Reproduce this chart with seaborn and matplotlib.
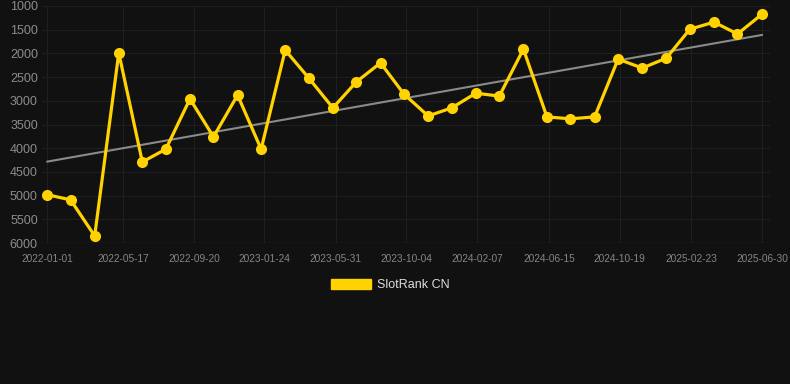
import pandas as pd
import numpy as np
import matplotlib.pyplot as plt
import matplotlib.dates as mdates
import seaborn as sns
from matplotlib.patches import Patch

# data
dates = ['2022-01-01', '2022-02-12', '2022-03-27', '2022-05-09', '2022-06-20', '2022-08-01',
         '2022-09-13', '2022-10-25', '2022-12-07', '2023-01-18', '2023-03-02', '2023-04-13',
         '2023-05-26', '2023-07-07', '2023-08-19', '2023-09-30', '2023-11-12', '2023-12-24',
         '2024-02-05', '2024-03-18', '2024-04-30', '2024-06-11', '2024-07-23', '2024-09-04',
         '2024-10-16', '2024-11-28', '2025-01-10', '2025-02-21', '2025-04-05', '2025-05-17',
         '2025-06-30']
ranks = [4980, 5090, 5850, 1990, 4290, 4020, 2960, 3760, 2880, 4020, 1930, 2520,
         3150, 2600, 2200, 2860, 3320, 3150, 2840, 2900, 1910, 3340, 3380, 3340,
         2120, 2310, 2100, 1490, 1340, 1590, 1170]
tick_dates = ['2022-01-01', '2022-05-17', '2022-09-20', '2023-01-24', '2023-05-31', '2023-10-04',
              '2024-02-07', '2024-06-15', '2024-10-19', '2025-02-23', '2025-06-30']
yticks = [1000, 1500, 2000, 2500, 3000, 3500, 4000, 4500, 5000, 5500, 6000]

df = pd.DataFrame({'date': pd.to_datetime(dates), 'rank': ranks})

sns.set_style('dark')
plt.rcParams['font.family'] = ['Liberation Sans', 'DejaVu Sans']

bg = '#111111'
gold = '#FFD200'

fig = plt.figure(figsize=(7.9, 3.84), dpi=100, facecolor=bg)
ax = fig.add_axes([42/790, 1-243/384, 728/790, 237/384])
ax.set_facecolor(bg)

# trend line (least squares on the series)
xnum = mdates.date2num(df['date'])
k, b = np.polyfit(xnum, df['rank'], 1)
ax.plot(df['date'].iloc[[0, -1]], k*xnum[[0, -1]]+b, color='#8a8a8a', lw=1.5, zorder=2)

sns.lineplot(data=df, x='date', y='rank', ax=ax, color=gold, lw=2.3, marker='o',
             markersize=8, markeredgewidth=0, zorder=3, label='SlotRank CN', legend=False)

ax.set_ylim(6000, 1000)
ax.set_yticks(yticks)
ax.set_yticklabels([str(v) for v in yticks])
t0 = pd.Timestamp('2022-01-01')
t1 = pd.Timestamp('2025-06-30')
ax.set_xlim(t0 - pd.Timedelta(days=9), t1 + pd.Timedelta(days=14))
ax.set_xticks(pd.to_datetime(tick_dates))
ax.set_xticklabels(tick_dates)

ax.grid(True, color='#1f1f1f', lw=0.8)
ax.tick_params(axis='y', colors='#8c8c8c', labelsize=9, length=0, pad=3)
ax.tick_params(axis='x', colors='#858585', labelsize=7.3, length=0, pad=8)
for s in ax.spines.values():
    s.set_visible(False)
ax.axhline(6000, color='#2a2a2a', lw=1, zorder=1)
ax.set_xlabel('')
ax.set_ylabel('')

leg = fig.legend(handles=[Patch(color=gold, label='SlotRank CN')], loc='center',
                 bbox_to_anchor=(390/790, 1-285/384), frameon=False, fontsize=9,
                 handlelength=3.2, handleheight=0.9, handletextpad=0.5)
for t in leg.get_texts():
    t.set_color('#dddddd')

fig.savefig('out.png', dpi=100, facecolor=bg)
